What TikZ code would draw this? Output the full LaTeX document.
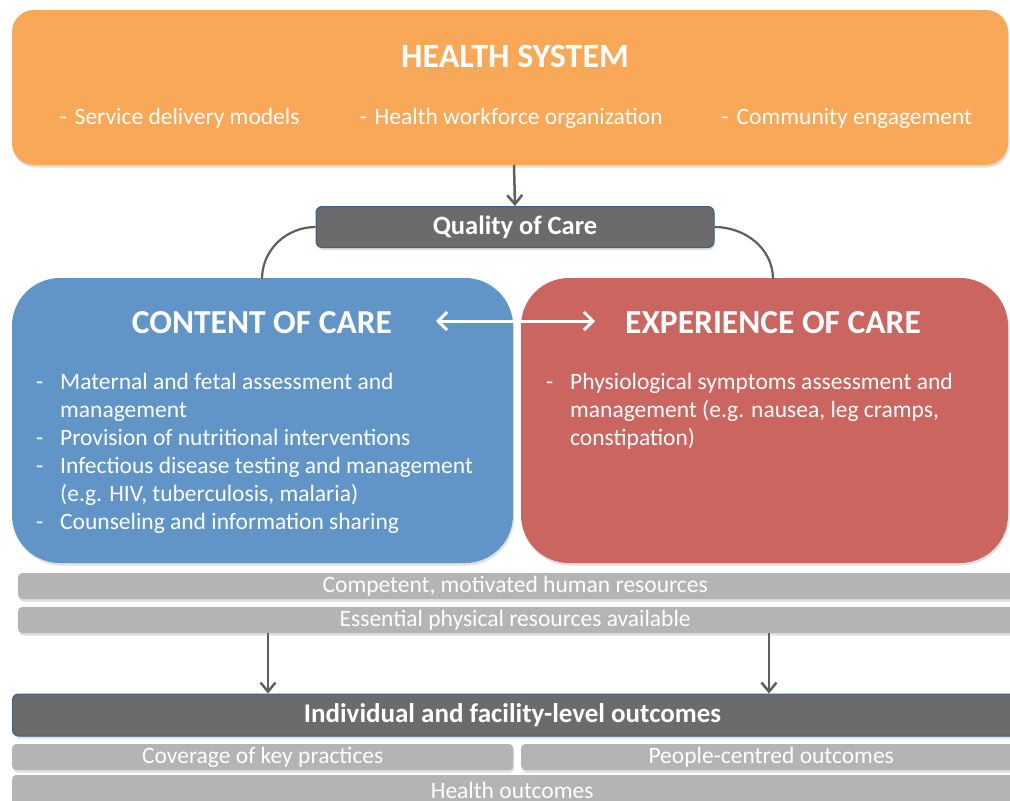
\documentclass[tikz,border=0pt]{standalone}
\usepackage{fontspec}
\setmainfont{Carlito}
\usetikzlibrary{arrows.meta,shadows}
\definecolor{hsorange}{HTML}{F8A857}
\definecolor{ccblue}{HTML}{6195C8}
\definecolor{ecred}{HTML}{CB6560}
\definecolor{barg}{HTML}{B4B4B4}
\definecolor{darkg}{HTML}{6B6B6B}
\definecolor{darkb}{HTML}{3E5F87}
\definecolor{arrg}{HTML}{5F5F5F}
\tikzset{
  shad/.style={drop shadow={opacity=0.25,shadow xshift=1pt,shadow yshift=-2.5pt}},
  bigbox/.style={shad,rounded corners=#1},
  graybar/.style={fill=barg,rounded corners=4pt,shad},
  darkbar/.style={fill=darkg,draw=darkb,line width=1pt,rounded corners=6pt,shad},
  bartext/.style={text=white,font=\fontsize{23.5}{26}\selectfont},
  bultext/.style={text=white,font=\fontsize{23.5}{26}\selectfont,anchor=base west},
  conn/.style={draw=arrg,line width=2.2pt},
  downarr/.style={draw=arrg,line width=2.5pt,-{Straight Barb[length=9pt,width=15pt,line width=2.5pt]}},
  twoarr/.style={draw=white,line width=3pt,{Straight Barb[length=9pt,width=18pt,line width=3pt]}-{Straight Barb[length=9pt,width=18pt,line width=3pt]}},
}
\begin{document}
\begin{tikzpicture}[x=1pt,y=-1pt]
\useasboundingbox (0,0) rectangle (1010,801);
\clip (0,0) rectangle (1010,801);
% Health system box
\path[bigbox=22pt,fill=hsorange] (12,10) rectangle (1008,165);
\node[text=white,font=\fontsize{34}{38}\bfseries\selectfont,anchor=base] (hs) at (515,67) {HEALTH SYSTEM};
\node[bultext] (hs1) at (56,124) {-\hspace{8pt}Service delivery models};
\node[bultext] (hs2) at (356,124) {-\hspace{8pt}Health workforce organization};
\node[bultext] (hs3) at (718,124) {-\hspace{8pt}Community engagement};
\coordinate (hsb) at (514,165);
% Quality of care
\node[darkbar,minimum width=398pt,minimum height=41pt,inner sep=0pt,text=white,font=\fontsize{26.5}{30}\bfseries\selectfont] (qoc) at (515,227) {Quality of Care};
\draw[downarr] (hsb) -- (qoc.north);
% Content / experience boxes
\path[bigbox=48pt,fill=ccblue] (12,278) rectangle (513,563);
\path[bigbox=48pt,fill=ecred] (521,278) rectangle (1008,563);
\coordinate (cctop) at (262,279);
\coordinate (ectop) at (773,279);
\draw[conn] (qoc.west) to[out=180,in=90] (cctop);
\draw[conn] (qoc.east) to[out=0,in=90] (ectop);
\node[text=white,font=\fontsize{33.5}{38}\bfseries\selectfont,anchor=base] (cc) at (262,333) {CONTENT OF CARE};
\node[text=white,font=\fontsize{33.5}{38}\bfseries\selectfont,anchor=base] (ec) at (773,333) {EXPERIENCE OF CARE};
\coordinate (dl) at (436,321);
\coordinate (dr) at (595,321);
\draw[twoarr] (dl) -- (dr);
\node[text=white,font=\fontsize{23.5}{28}\selectfont,anchor=north west,inner sep=0pt] (cclist) at (36,370)
 {\begin{tabular}{@{}p{24pt}@{}l@{}}
  - & Maternal and fetal assessment and\\
    & management\\
  - & Provision of nutritional interventions\\
  - & Infectious disease testing and management\\
    & (e.g. HIV, tuberculosis, malaria)\\
  - & Counseling and information sharing
  \end{tabular}};
\node[text=white,font=\fontsize{23.5}{28}\selectfont,anchor=north west,inner sep=0pt] (eclist) at (546,370)
 {\begin{tabular}{@{}p{24pt}@{}l@{}}
  - & Physiological symptoms assessment and\\
    & management (e.g. nausea, leg cramps,\\
    & constipation)
  \end{tabular}};
% resources bars
\node[graybar,minimum width=1000pt,minimum height=26pt,inner sep=0pt,anchor=west,bartext] (hr) at (18,586) {\hspace{-6pt}Competent, motivated human resources};
\node[graybar,minimum width=1000pt,minimum height=26pt,inner sep=0pt,anchor=west,bartext] (pr) at (18,620) {\hspace{-6pt}Essential physical resources available};
% outcomes
\node[darkbar,minimum width=1010pt,minimum height=42pt,inner sep=0pt,anchor=west,text=white,font=\fontsize{27}{30}\bfseries\selectfont] (out) at (12,715) {\hspace{-10pt}Individual and facility-level outcomes};
\coordinate (a1s) at (268,633);
\coordinate (a2s) at (769,633);
\draw[downarr] (a1s) -- (a1s |- out.north);
\draw[downarr] (a2s) -- (a2s |- out.north);
\node[graybar,minimum width=501pt,minimum height=26pt,inner sep=0pt,anchor=west,bartext] (cov) at (12,757) {Coverage of key practices};
\node[graybar,minimum width=500pt,minimum height=26pt,inner sep=0pt,anchor=west,bartext] (pco) at (521,757) {People-centred outcomes};
\node[graybar,minimum width=1010pt,minimum height=30pt,inner sep=0pt,anchor=west,bartext] (ho) at (12,790) {\hspace{-10pt}Health outcomes};
\end{tikzpicture}
\end{document}
